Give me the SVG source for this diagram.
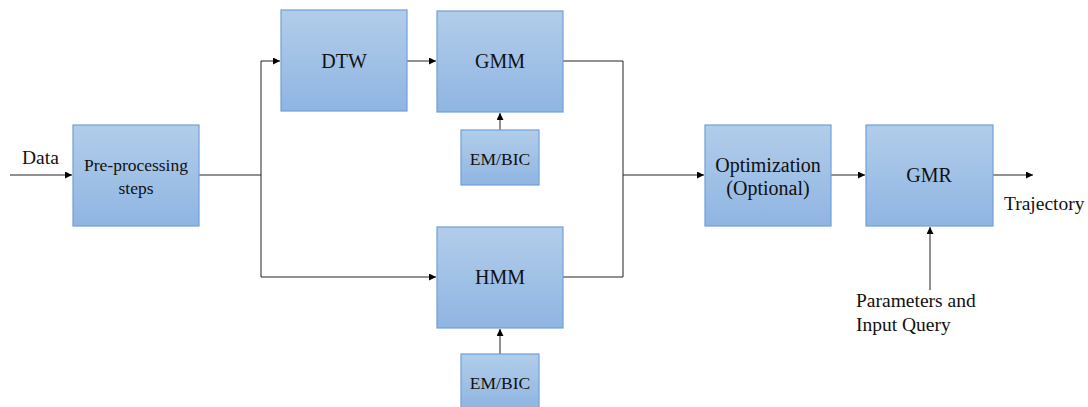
<svg xmlns="http://www.w3.org/2000/svg" width="1088" height="407" viewBox="0 0 1088 407">
<defs>
<linearGradient id="g" x1="0" y1="0" x2="0" y2="1">
<stop offset="0" stop-color="#b2cdea"/>
<stop offset="1" stop-color="#8fb5e2"/>
</linearGradient>
<marker id="a" viewBox="0 0 10 10" refX="10" refY="5" markerWidth="7" markerHeight="7" orient="auto" markerUnits="userSpaceOnUse">
<path d="M0,0 L10,5 L0,10 Z" fill="#000"/>
</marker>
</defs>
<style>
.box{fill:url(#g);stroke:#6fa0d9;stroke-width:1.2}
.t{font-family:"Liberation Serif",serif;font-size:20px;fill:#111;text-anchor:middle}
.s{font-size:17.5px}
.l{font-family:"Liberation Serif",serif;font-size:19.5px;fill:#111}
.c{fill:none;stroke:#222;stroke-width:1}
</style>
<rect width="1088" height="407" fill="#fff"/>
<g id="connectors">
<path class="c" d="M10,175 H72" marker-end="url(#a)"/>
<path class="c" d="M199,175 H261 M261,61 V277"/>
<path class="c" d="M261,61 H280" marker-end="url(#a)"/>
<path class="c" d="M261,277 H436" marker-end="url(#a)"/>
<path class="c" d="M407,61 H436" marker-end="url(#a)"/>
<path class="c" d="M563,61 H623 V277 H563"/>
<path class="c" d="M623,175 H704" marker-end="url(#a)"/>
<path class="c" d="M500,130 V113" marker-end="url(#a)"/>
<path class="c" d="M500,354 V329" marker-end="url(#a)"/>
<path class="c" d="M831,175 H865" marker-end="url(#a)"/>
<path class="c" d="M993,175 H1033" marker-end="url(#a)"/>
<path class="c" d="M930,290 V227" marker-end="url(#a)"/>
</g>
<g id="data-label"><text class="l" x="22" y="164">Data</text></g>
<g id="preprocessing">
<rect class="box" x="73" y="125" width="126" height="101"/>
<text class="t s" x="136" y="171">Pre-processing</text>
<text class="t s" x="136" y="194">steps</text>
</g>
<g id="dtw">
<rect class="box" x="281" y="10" width="126" height="101"/>
<text class="t" x="344" y="68">DTW</text>
</g>
<g id="gmm">
<rect class="box" x="437" y="11" width="126" height="101"/>
<text class="t" x="500" y="68">GMM</text>
</g>
<g id="embic1">
<rect class="box" x="461" y="130" width="78" height="55"/>
<text class="t s" x="500" y="165">EM/BIC</text>
</g>
<g id="hmm">
<rect class="box" x="437" y="227" width="126" height="101"/>
<text class="t" x="500" y="284">HMM</text>
</g>
<g id="embic2">
<rect class="box" x="461" y="354" width="78" height="55"/>
<text class="t s" x="500" y="389">EM/BIC</text>
</g>
<g id="optimization">
<rect class="box" x="705" y="125" width="126" height="101"/>
<text class="t" x="768" y="172">Optimization</text>
<text class="t" x="768" y="195">(Optional)</text>
</g>
<g id="gmr">
<rect class="box" x="866" y="125" width="127" height="101"/>
<text class="t" x="929" y="182">GMR</text>
</g>
<g id="trajectory-label"><text class="l" x="1004" y="210">Trajectory</text></g>
<g id="params-label">
<text class="l" x="856" y="307">Parameters and</text>
<text class="l" x="856" y="331">Input Query</text>
</g>
</svg>
